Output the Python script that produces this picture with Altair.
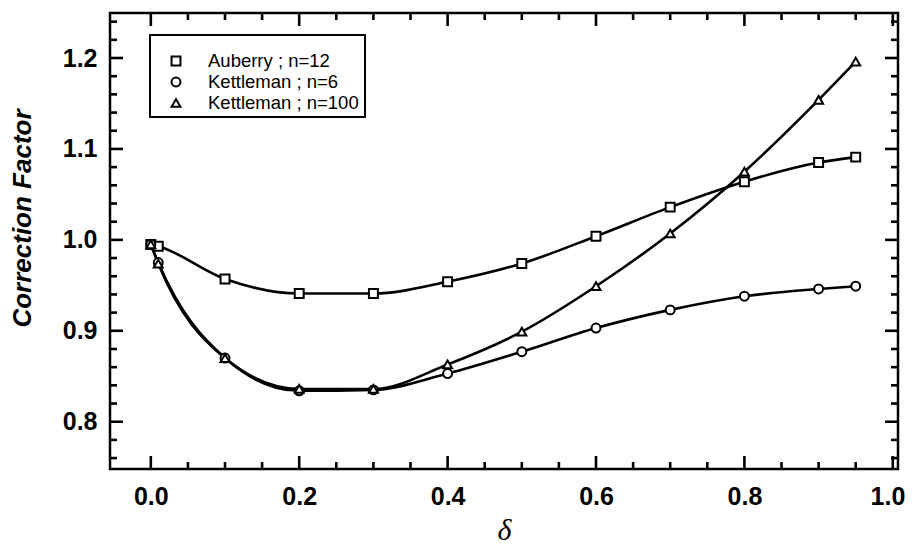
import altair as alt
import pandas as pd

delta = [0.0, 0.01, 0.1, 0.2, 0.3, 0.4, 0.5, 0.6, 0.7, 0.8, 0.9, 0.95]
auberry_n12 = [0.995, 0.993, 0.957, 0.941, 0.941, 0.954, 0.974, 1.004, 1.036, 1.064, 1.085, 1.091]
kettleman_n6 = [0.995, 0.975, 0.870, 0.834, 0.835, 0.853, 0.877, 0.903, 0.923, 0.938, 0.946, 0.949]
kettleman_n100 = [0.995, 0.974, 0.870, 0.836, 0.836, 0.863, 0.899, 0.949, 1.007, 1.075, 1.154, 1.196]

series_names = ["Auberry ; n=12", "Kettleman ; n=6", "Kettleman ; n=100"]
series_shapes = ["square", "circle", "triangle-up"]

x_major = [0.0, 0.2, 0.4, 0.6, 0.8, 1.0]
x_minor = [0.05, 0.1, 0.15, 0.25, 0.3, 0.35, 0.45, 0.5, 0.55, 0.65, 0.7, 0.75, 0.85, 0.9, 0.95]
y_major = [0.8, 0.9, 1.0, 1.1, 1.2]
y_minor = [0.76, 0.78, 0.82, 0.84, 0.86, 0.88, 0.92, 0.94, 0.96, 0.98,
           1.02, 1.04, 1.06, 1.08, 1.12, 1.14, 1.16, 1.18, 1.22, 1.24]

rows = []
for name, vals in zip(series_names, [auberry_n12, kettleman_n6, kettleman_n100]):
    for d, v in zip(delta, vals):
        rows.append({"delta": d, "cf": v, "series": name})
df = pd.DataFrame(rows)
legend_df = pd.DataFrame({"series": series_names})

W, H = 788, 456
MAJ, MIN = 13, 7
TW = 2.6

xs = alt.Scale(domain=[-0.055, 1.007], nice=False, zero=False)
ys = alt.Scale(domain=[0.748, 1.2495], nice=False, zero=False)
shape_scale = alt.Scale(domain=series_names, range=series_shapes)

base = alt.Chart(df)

lines = base.mark_line(interpolate="monotone", color="black", strokeWidth=2.6).encode(
    x=alt.X("delta:Q", scale=xs, axis=alt.Axis(
        orient="bottom", values=x_major, format=".1f", ticks=False, tickSize=0,
        domain=False, grid=False, labelPadding=15, labelFlush=6, labelFlushOffset=12,
        title="δ", titleFont="Liberation Serif",
        titleFontStyle="italic", titleFontWeight="normal", titleFontSize=30, titlePadding=6)),
    y=alt.Y("cf:Q", scale=ys, axis=alt.Axis(
        orient="left", values=y_major, format=".1f", ticks=False, tickSize=0,
        domain=False, grid=False, labelPadding=13,
        title="Correction Factor", titleFont="Liberation Sans",
        titleFontStyle="italic", titleFontWeight="bold", titleFontSize=26,
        titleX=-88, titleY=205, titleAngle=270, titleBaseline="middle", titleAlign="center")),
    detail="series:N",
)

points = base.mark_point(filled=False, fill="white", stroke="black", strokeWidth=2,
                         size=80, opacity=1).encode(
    x=alt.X("delta:Q", scale=xs, axis=None),
    y=alt.Y("cf:Q", scale=ys, axis=None),
    shape=alt.Shape("series:N", scale=shape_scale, legend=None),
)

# inward tick marks on all four sides, positioned by the scales
def xticks(vals, length, top):
    y0 = 0 if top else H
    y1 = length if top else H - length
    return alt.Chart(pd.DataFrame({"t": vals})).mark_rule(
        color="#000000", strokeWidth=TW, opacity=1).encode(
        x=alt.X("t:Q", scale=xs, axis=None), y=alt.value(y0), y2=alt.value(y1))

def yticks(vals, length, right):
    x0 = W if right else 0
    x1 = W - length if right else length
    return alt.Chart(pd.DataFrame({"t": vals})).mark_rule(
        color="#000000", strokeWidth=TW, opacity=1).encode(
        y=alt.Y("t:Q", scale=ys, axis=None), x=alt.value(x0), x2=alt.value(x1))

tick_layers = [
    xticks(x_major, MAJ, False), xticks(x_minor, MIN, False),
    xticks(x_major, MAJ, True), xticks(x_minor, MIN, True),
    yticks(y_major, MAJ, False), yticks(y_minor, MIN, False),
    yticks(y_major, MAJ, True), yticks(y_minor, MIN, True),
]

# legend box, symbols and labels
row_scale = alt.Scale(type="point", domain=series_names, range=[48, 90], padding=0)

legend_box = alt.Chart(pd.DataFrame({"series": series_names[:1]})).mark_rect(
    fill="white", stroke="black", strokeWidth=2
).encode(x=alt.value(40), x2=alt.value(255), y=alt.value(22), y2=alt.value(104))

legend_symbols = alt.Chart(legend_df).mark_point(
    filled=False, fill="white", stroke="black", strokeWidth=2, size=80, opacity=1
).encode(
    x=alt.value(66),
    y=alt.Y("series:N", scale=row_scale, axis=None),
    shape=alt.Shape("series:N", scale=shape_scale, legend=None),
)

legend_text = alt.Chart(legend_df).mark_text(
    align="left", baseline="middle", font="Liberation Sans", fontSize=18.5, color="black"
).encode(
    x=alt.value(98),
    y=alt.Y("series:N", scale=row_scale, axis=None),
    text="series:N",
)

chart = alt.layer(lines, points, legend_box, legend_symbols, legend_text, *tick_layers).resolve_axis(
    x="independent", y="independent"
).resolve_scale(
    x="independent", y="independent"
).properties(
    width=W, height=H,
    autosize=alt.AutoSizeParams(type="none"),
    padding={"left": 102, "top": 5, "right": 9, "bottom": 78},
).configure_view(
    stroke="black", strokeWidth=2.5
).configure_axis(
    labelColor="black", titleColor="black",
    labelFont="Liberation Sans", labelFontWeight="bold", labelFontSize=25,
)

chart.save("out.html", embed_options={"renderer": "svg", "actions": False})
